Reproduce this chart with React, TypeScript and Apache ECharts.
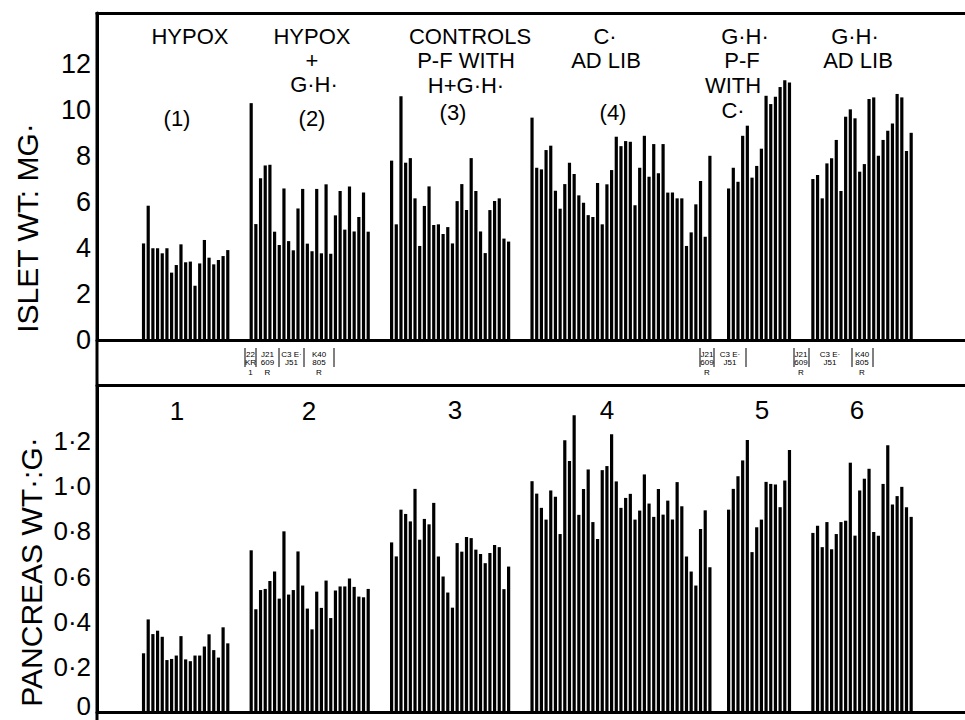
import { useEffect, useRef } from "react";
import * as echarts from "echarts";

// ---- data ----
const groupStart = [0, 23, 53, 83, 125, 143];

const islet1 = [4.2, 5.84, 3.99, 3.99, 3.77, 3.99, 2.93, 3.26, 4.16, 3.38, 3.41, 2.36, 3.33, 4.35, 3.58, 3.29, 3.48, 3.65, 3.91];
const islet2 = [10.3, 5.04, 7.03, 7.59, 7.62, 4.71, 4.13, 6.59, 4.3, 3.9, 5.72, 6.57, 4.19, 3.86, 6.57, 3.77, 6.77, 3.75, 5.42, 6.48, 4.8, 6.67, 4.72, 5.35, 6.41, 4.71];
const islet3 = [7.8, 5.03, 10.6, 7.71, 7.91, 6.16, 4.09, 5.83, 6.68, 5.0, 5.03, 4.61, 4.91, 4.2, 6.04, 6.78, 5.65, 7.91, 6.48, 4.72, 3.78, 5.65, 6.04, 6.16, 4.41, 4.28];
const islet4 = [9.67, 7.49, 7.42, 8.26, 8.45, 6.49, 5.71, 6.78, 7.71, 7.22, 6.29, 5.97, 5.43, 5.35, 6.83, 5.03, 6.77, 7.39, 8.84, 8.43, 8.65, 8.62, 5.86, 7.49, 8.88, 7.1, 8.52, 7.25, 8.52, 6.41, 6.41, 6.16, 6.16, 4.09, 4.68, 5.9, 6.91, 4.49, 8.01];
const islet5 = [6.59, 7.49, 6.88, 8.88, 9.32, 7.06, 7.57, 8.32, 10.62, 10.26, 10.58, 11.0, 11.3, 11.2];
const islet6 = [7.0, 7.17, 6.16, 7.68, 7.9, 8.7, 6.48, 9.71, 10.03, 9.64, 7.32, 7.65, 10.48, 10.55, 8.01, 8.7, 9.1, 9.42, 10.7, 10.55, 8.22, 9.01];

const panc1 = [0.26, 0.41, 0.345, 0.36, 0.333, 0.23, 0.235, 0.25, 0.336, 0.233, 0.225, 0.25, 0.25, 0.29, 0.344, 0.274, 0.241, 0.375, 0.304];
const panc2 = [0.716, 0.455, 0.54, 0.545, 0.58, 0.622, 0.502, 0.8, 0.52, 0.54, 0.711, 0.56, 0.458, 0.366, 0.533, 0.461, 0.582, 0.416, 0.538, 0.556, 0.556, 0.591, 0.554, 0.511, 0.508, 0.545];
const panc3 = [0.751, 0.689, 0.896, 0.877, 0.844, 0.988, 0.763, 0.855, 0.831, 0.926, 0.689, 0.6, 0.529, 0.462, 0.748, 0.71, 0.775, 0.77, 0.719, 0.7, 0.659, 0.704, 0.739, 0.73, 0.544, 0.644];
const panc4 = [1.022, 0.967, 0.904, 0.852, 0.981, 0.953, 0.788, 1.203, 1.111, 1.314, 0.873, 0.988, 1.074, 0.841, 0.766, 1.071, 1.089, 1.23, 1.021, 0.904, 0.948, 0.966, 0.852, 0.892, 1.052, 0.923, 0.864, 0.988, 0.874, 0.936, 0.852, 1.018, 0.911, 0.689, 0.622, 0.56, 0.81, 0.893, 0.641];
const panc5 = [0.896, 0.988, 1.044, 1.114, 1.204, 0.708, 0.818, 0.852, 1.019, 1.01, 1.007, 0.907, 1.025, 1.16];
const panc6 = [0.793, 0.825, 0.73, 0.841, 0.721, 0.788, 0.841, 0.847, 1.104, 0.781, 0.981, 1.033, 1.077, 0.797, 0.781, 1.01, 1.181, 0.919, 0.956, 0.997, 0.907, 0.864];

const isletTickValues = [0, 2, 4, 6, 8, 10, 12];
const pancTickLabels = ["0", "0·2", "0·4", "0·6", "0·8", "1·0", "1·2"];

const isletTitle = "ISLET WT: MG·";
const pancTitle = "PANCREAS WT·:G·";

const headerLines = [
  ["HYPOX"], ["(1)"],
  ["HYPOX", "+", "G·H·", "(2)"],
  ["CONTROLS", "P-F WITH", "H+G·H·", "(3)"],
  ["C·", "AD LIB", "(4)"],
  ["G·H·", "P-F", "WITH", "C·"],
  ["G·H·", "AD LIB"],
];
const groupNumbers = ["1", "2", "3", "4", "5", "6"];
const strainLabelsLeft = [["22", "KR", "1"], ["J21", "609", "R"], ["C3 E·", "J51"], ["K40", "805", "R"]];
const strainLabelsMidRight = [["J21", "609", "R"], ["C3 E·", "J51"]];
const strainLabelsRight = [["J21", "609", "R"], ["C3 E·", "J51"], ["K40", "805", "R"]];

function toData(groups: number[][]) {
  const out: number[][] = [];
  groups.forEach((g, gi) => g.forEach((v, i) => out.push([groupStart[gi] + i, v])));
  return out;
}

const FONT = '"Liberation Sans", Arial, sans-serif';

export default function App() {
  const ref = useRef<HTMLDivElement>(null);
  useEffect(() => {
    if (!ref.current) return;
    const chart = echarts.init(ref.current, undefined, { renderer: "svg" });

    const X_MIN = -9.94;
    const X_MAX = 175.5;
    const black = "#000";

    const xBase = (gridIndex: number, position: string) => ({
      type: "value",
      gridIndex,
      position,
      min: X_MIN,
      max: X_MAX,
      axisLine: { show: true, onZero: false, lineStyle: { color: black, width: 3 } },
      axisTick: { show: false },
      axisLabel: { show: false },
      splitLine: { show: false },
    });

    const txt = (text: string, x: number, y: number, size = 26, extra: any = {}) => ({
      type: "text",
      x,
      y,
      silent: true,
      style: {
        text,
        fontSize: size,
        fontFamily: FONT,
        fill: black,
        align: "center",
        verticalAlign: "middle",
      },
      ...extra,
    });

    const headerPos: [number, number][][] = [
      [[190, 36]],
      [[177, 118]],
      [[312, 36], [312, 60], [314, 84], [312, 118]],
      [[470, 36], [466, 60], [466, 85], [453, 112]],
      [[605, 36], [606, 60], [613, 112]],
      [[745, 36], [742, 60], [733, 85], [733, 110]],
      [[855, 36], [858, 60]],
    ];
    const numPos: [number, number][] = [[177, 411], [309, 411], [455, 410], [607, 410], [762, 410], [857, 410]];

    const graphics: any[] = [];
    headerLines.forEach((lines, gi) =>
      lines.forEach((t, li) => graphics.push(txt(t, headerPos[gi][li][0], headerPos[gi][li][1], 22)))
    );
    groupNumbers.forEach((t, i) => graphics.push(txt(t, numPos[i][0], numPos[i][1], 26)));
    graphics.push(txt(isletTitle, 27, 228, 30, { rotation: Math.PI / 2 }));
    graphics.push(txt(pancTitle, 31, 572, 30, { rotation: Math.PI / 2 }));
    // continuous left frame line
    graphics.push({
      type: "line",
      silent: true,
      shape: { x1: 97, y1: 12, x2: 97, y2: 720 },
      style: { stroke: black, lineWidth: 3 },
    });

    const strainBlock = (labels: string[][], centers: number[], seps: number[]) => {
      labels.forEach((rows, i) =>
        rows.forEach((r, ri) => {
          const y = ri === 0 ? 354 : ri === 1 ? 362 : 372;
          graphics.push(txt(r, centers[i], y, 8));
        })
      );
      seps.forEach((sx) =>
        graphics.push({
          type: "line",
          silent: true,
          shape: { x1: sx, y1: 348, x2: sx, y2: 367 },
          style: { stroke: black, lineWidth: 1 },
        })
      );
    };
    strainBlock(strainLabelsLeft, [250.5, 267.5, 291.5, 319], [245, 256, 279, 304, 334]);
    strainBlock(strainLabelsMidRight, [707, 730], [700, 714, 746]);
    strainBlock(strainLabelsRight, [801, 830, 862], [794, 809, 852, 873]);

    chart.setOption({
      animation: false,
      backgroundColor: "#fff",
      grid: [
        { left: 97, right: 0, top: 13, height: 327 },
        { left: 97, right: 0, top: 385, height: 327 },
      ],
      xAxis: [xBase(0, "bottom"), xBase(1, "bottom"), xBase(0, "top"), xBase(1, "top")],
      yAxis: [
        {
          type: "value",
          gridIndex: 0,
          min: 0,
          max: 14.22,
          interval: 2,
          axisLine: { show: true, onZero: false, lineStyle: { color: black, width: 3 } },
          axisTick: { show: false },
          splitLine: { show: false },
          axisLabel: {
            color: black,
            fontSize: 27,
            fontFamily: FONT,
            margin: 6,
            formatter: (v: number) => (isletTickValues.includes(Math.round(v * 100) / 100) ? String(v) : ""),
          },
        },
        {
          type: "value",
          gridIndex: 1,
          min: 0,
          max: 1.448,
          interval: 0.2,
          axisLine: { show: true, onZero: false, lineStyle: { color: black, width: 3 } },
          axisTick: { show: false },
          splitLine: { show: false },
          axisLabel: {
            color: black,
            fontSize: 26,
            fontFamily: FONT,
            margin: 6,
            formatter: (v: number) => {
              const k = Math.round(v * 5);
              if (Math.abs(v * 5 - k) > 1e-6 || k >= pancTickLabels.length) return "";
              return k === 0 ? "{z|" + pancTickLabels[0] + "}" : pancTickLabels[k];
            },
            rich: { z: { fontSize: 26, fontFamily: FONT, color: black, padding: [0, 0, 12, 0] } },
          },
        },
      ],
      series: [
        {
          type: "bar",
          xAxisIndex: 0,
          yAxisIndex: 0,
          barWidth: 3.2,
          itemStyle: { color: black },
          data: toData([islet1, islet2, islet3, islet4, islet5, islet6]),
        },
        {
          type: "bar",
          xAxisIndex: 1,
          yAxisIndex: 1,
          barWidth: 3.2,
          itemStyle: { color: black },
          data: toData([panc1, panc2, panc3, panc4, panc5, panc6]),
        },
      ],
      graphic: graphics,
    });
    return () => chart.dispose();
  }, []);
  return (
    <div
      ref={ref}
      style={{ position: "absolute", left: 0, top: 0, width: 965, height: 720, background: "#fff" }}
    />
  );
}
